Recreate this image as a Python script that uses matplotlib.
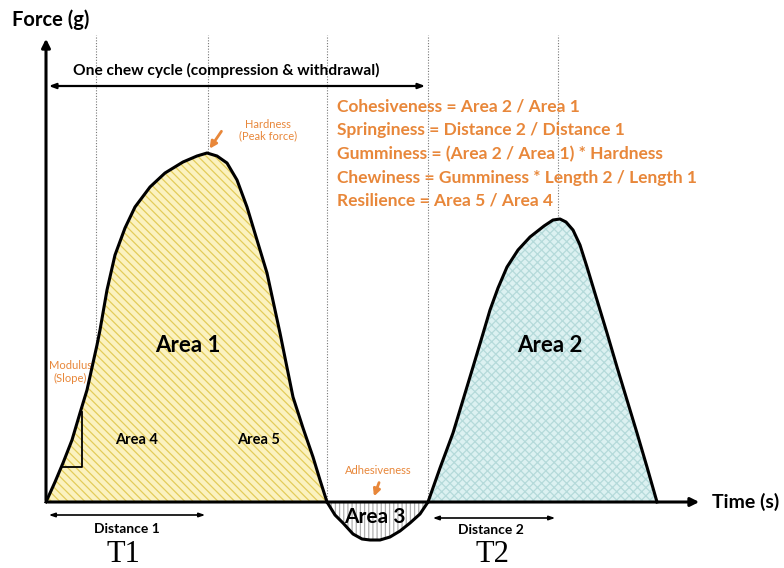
import matplotlib.pyplot as plt
import numpy as np

# picture coordinates: time to the right, force upward, origin at the axes corner
t1 = [0, 9, 17, 26, 34, 41, 47, 51, 54, 61, 69, 79, 89, 104, 119, 137, 151, 161,
      171, 181, 191, 201, 211, 221, 234, 247, 257, 267, 274, 281]
f1 = [0, 20, 39, 62, 89, 112, 139, 157, 172, 212, 247, 274, 295, 315, 329, 340,
      346, 349, 346, 339, 322, 295, 262, 229, 169, 105, 74, 45, 22, 0]

t3 = [281, 289, 297, 307, 316, 324, 334, 344, 354, 364, 374, 382]
f3 = [0, -13, -21, -32, -37, -38, -38, -35, -29, -21, -12, 0]

t2 = [382, 394, 407, 417, 427, 436, 444, 452, 461, 472, 484, 498, 507, 514, 520,
      527, 534, 541, 551, 561, 571, 581, 591, 601, 611]
f2 = [0, 34, 69, 102, 135, 165, 192, 214, 235, 252, 265, 276, 282, 283, 280, 272,
      257, 235, 202, 169, 135, 102, 69, 35, 0]

guides = [50, 162, 281, 382, 512]
hardness_t, hardness_f = 161, 349

formulas = ["Cohesiveness = Area 2 / Area 1",
            "Springiness = Distance 2 / Distance 1",
            "Gumminess = (Area 2 / Area 1) * Hardness",
            "Chewiness = Gumminess * Length 2 / Length 1",
            "Resilience = Area 5 / Area 4"]

orange = "#e8873a"
sans = ["Lato", "DejaVu Sans"]
serif = ["Liberation Serif", "DejaVu Serif"]
plt.rcParams["font.family"] = sans
plt.rcParams["hatch.linewidth"] = 0.9

fig = plt.figure(figsize=(7.84, 5.68), dpi=100)
ax = fig.add_axes([0, 0, 1, 1])
ax.set_xlim(-46, 738)
ax.set_ylim(-66, 502)
ax.axis("off")

# guide lines
for g in guides:
    ax.plot([g, g], [0, 467], ls=(0, (1, 1.5)), color="#777777", lw=0.8, zorder=1)

# areas
ax.fill(t1, f1, facecolor="#fbf2c0", edgecolor="#e3cc5a", hatch="\\\\\\\\", lw=0, zorder=2)
ax.fill(t3, f3, facecolor="white", edgecolor="#b0b0b0", hatch="||||", lw=0, zorder=2)
ax.fill(t2, f2, facecolor="#dcf1f1", edgecolor="#b5dada", hatch="xxxx", lw=0, zorder=2)
for t, f in [(t1, f1), (t3, f3), (t2, f2)]:
    ax.plot(t, f, color="black", lw=2.2, zorder=4, solid_joinstyle="round")

# modulus triangle
ax.plot([16, 36, 36], [35, 35, 90], color="black", lw=1.3, zorder=4)

# axes arrows
ax.annotate("", xy=(0, 466), xytext=(0, -1),
            arrowprops=dict(arrowstyle="-|>,head_width=0.25,head_length=0.5", color="black", lw=2.2), zorder=5)
ax.annotate("", xy=(656, 0), xytext=(-1, 0),
            arrowprops=dict(arrowstyle="-|>,head_width=0.25,head_length=0.5", color="black", lw=2.2), zorder=5)
ax.text(-34, 482, "Force (g)", fontsize=14.5, fontweight="bold", va="center", ha="left")
ax.text(666, 0, "Time (s)", fontsize=14, fontweight="bold", va="center", ha="left")

# chew cycle
ax.annotate("", xy=(382, 416), xytext=(0, 416),
            arrowprops=dict(arrowstyle="<|-|>,head_width=0.15,head_length=0.4", color="black", lw=1.6))
ax.text(180, 432, "One chew cycle (compression & withdrawal)", fontsize=11.2,
        fontweight="bold", ha="center", va="center")

# distances
ax.annotate("", xy=(162, -13), xytext=(0, -13),
            arrowprops=dict(arrowstyle="<|-|>,head_width=0.12,head_length=0.35", color="black", lw=1.2))
ax.text(81, -27, "Distance 1", fontsize=10, fontweight="bold", ha="center", va="center")
ax.annotate("", xy=(512, -16), xytext=(384, -16),
            arrowprops=dict(arrowstyle="<|-|>,head_width=0.12,head_length=0.35", color="black", lw=1.2))
ax.text(445, -28, "Distance 2", fontsize=10, fontweight="bold", ha="center", va="center")
ax.text(77, -52, "T1", fontsize=22, family=serif, ha="center", va="center")
ax.text(446, -52, "T2", fontsize=22, family=serif, ha="center", va="center")

# area labels
ax.text(142, 156, "Area 1", fontsize=16, fontweight="bold", ha="center", va="center")
ax.text(504, 157, "Area 2", fontsize=16, fontweight="bold", ha="center", va="center")
ax.text(91, 62, "Area 4", fontsize=10.5, fontweight="bold", ha="center", va="center")
ax.text(213, 62, "Area 5", fontsize=10.5, fontweight="bold", ha="center", va="center")
ax.text(329, -15, "Area 3", fontsize=15, fontweight="bold", ha="center", va="center", zorder=6)

# annotations in orange
ax.text(222, 372, "Hardness\n(Peak force)", fontsize=8, color=orange, ha="center",
        va="center", linespacing=1.1)
ax.annotate("", xy=(hardness_t + 1, hardness_f + 2), xytext=(177, 373),
            arrowprops=dict(arrowstyle="-|>,head_width=0.2,head_length=0.4", color=orange, lw=2))
ax.text(24, 130, "Modulus\n(Slope)", fontsize=8, color=orange, ha="center", va="center",
        linespacing=1.2)
ax.text(332, 32, "Adhesiveness", fontsize=8, color=orange, ha="center", va="center")
ax.annotate("", xy=(327, 3), xytext=(334, 22),
            arrowprops=dict(arrowstyle="-|>,head_width=0.2,head_length=0.4", color=orange, lw=2))

for i, line in enumerate(formulas):
    ax.text(291, 395 - i * 23.5, line, fontsize=12.5, fontweight="bold", color=orange,
            ha="left", va="center")

fig.savefig("out.png", dpi=100)
